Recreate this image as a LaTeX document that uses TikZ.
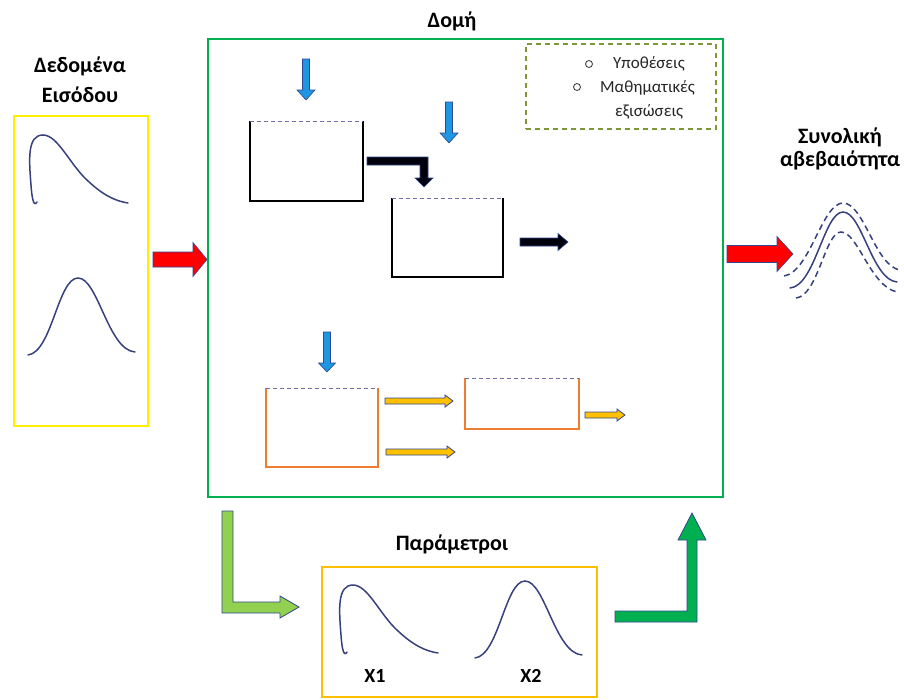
\documentclass[tikz,border=0pt]{standalone}
\usepackage{fontspec}
\setmainfont{Carlito}
\definecolor{gbox}{RGB}{0,176,80}
\definecolor{ybox}{RGB}{255,240,0}
\definecolor{obox}{RGB}{255,192,0}
\definecolor{olived}{RGB}{125,150,55}
\definecolor{procorange}{RGB}{237,125,49}
\definecolor{topline}{RGB}{110,110,170}
\definecolor{navyline}{RGB}{47,72,143}
\definecolor{arrblue}{RGB}{30,150,225}
\definecolor{arrgold}{RGB}{255,192,0}
\definecolor{lgreen}{RGB}{146,208,80}
\definecolor{curvec}{RGB}{55,65,125}
\newcommand{\blkR}[7]{\draw[#1] (#2,#4-#5) -- (#3-#7,#4-#5) -- (#3-#7,#4-#6) -- (#3,#4) -- (#3-#7,#4+#6) -- (#3-#7,#4+#5) -- (#2,#4+#5) -- cycle;}
\newcommand{\blkD}[7]{\draw[#1] (#2-#5,#3) -- (#2+#5,#3) -- (#2+#5,#4-#7) -- (#2+#6,#4-#7) -- (#2,#4) -- (#2-#6,#4-#7) -- (#2-#5,#4-#7) -- cycle;}
\newcommand{\skewpath}{(37,202) .. controls (34,207) and (32,200) .. (31,185) .. controls (29,160) and (27,135) .. (43,135) .. controls (58,135) and (70,165) .. (88,181) .. controls (103,195) and (115,201) .. (128,203)}
\newcommand{\bellpath}{(28,355) .. controls (52,352) and (58,278) .. (78,278) .. controls (98,278) and (108,350) .. (135,352)}
\tikzset{
  title/.style={font=\fontsize{22}{26}\selectfont\bfseries, anchor=base, inner sep=0},
  xlabel/.style={font=\fontsize{20}{24}\selectfont\bfseries, anchor=base, inner sep=0},
  btext/.style={font=\fontsize{17}{20}\selectfont, anchor=base west, inner sep=0, text=black!85},
  frame/.style={draw=#1, line width=2pt, inner sep=0, outer sep=0},
  slot/.style={inner sep=0, outer sep=0, minimum width=#1},
  bul/.style={circle, draw=black!80, line width=0.8pt, inner sep=0, minimum size=7pt},
  topdash/.style={draw=topline, line width=0.8pt, dash pattern=on 4pt off 3pt},
  curve/.style={draw=curvec, line width=1.5pt, line cap=round},
  dcurve/.style={draw=curvec, line width=1.5pt, dash pattern=on 6pt off 4pt},
  bluearr/.style={fill=arrblue, draw=navyline, line width=0.6pt},
  blackarr/.style={fill=black!95!blue, draw=navyline, line width=0.6pt},
  goldarr/.style={fill=arrgold, draw=navyline, line width=0.8pt},
  redarr/.style={fill=red, draw=navyline, line width=0.6pt},
}
\begin{document}
\begin{tikzpicture}[x=1pt,y=-1pt]
\useasboundingbox (0,0) rectangle (904,699);
% titles
\node[title] (tstruct) at (452,27) {Δομή};
\node[title] (tin1) at (80,72) {Δεδομένα};
\node[title] (tin2) at (80,102) {Εισόδου};
\node[title] (tout1) at (840,143) {Συνολική};
\node[title] (tout2) at (840,166) {αβεβαιότητα};
\node[title] (tpar) at (452,550) {Παράμετροι};
% frames
\node[frame=ybox, minimum width=134pt, minimum height=310pt] (inbox) at (81,271) {};
\node[frame=gbox, minimum width=515pt, minimum height=458pt] (structbox) at (465.5,268) {};
\node[draw=olived, line width=1.3pt, dash pattern=on 5pt off 4pt, inner sep=0, minimum width=190pt, minimum height=85pt] (hyp) at (621,86.5) {};
\node[frame=obox, minimum width=275pt, minimum height=130pt] (parbox) at (459.5,632) {};
% bullet list
\node[bul] (b1) at (589,64) {};
\node[bul] (b2) at (577,87) {};
\node[btext] (h1) at (613,68) {Υποθέσεις};
\node[btext] (h2) at (600,92) {Μαθηματικές};
\node[btext] (h3) at (615,116) {εξισώσεις};
% process boxes
\node[slot=113pt, minimum height=80pt] (p1) at (306.5,161) {};
\node[slot=111pt, minimum height=79pt] (p2) at (447.5,237.5) {};
\node[slot=112pt, minimum height=79pt] (p3) at (322,427.5) {};
\node[slot=114pt, minimum height=51pt] (p4) at (522,403.5) {};
\draw[line width=2pt] (p1.north west) -- (p1.south west) -- (p1.south east) -- (p1.north east);
\draw[topdash] (p1.north west) -- (p1.north east);
\draw[line width=2pt] (p2.north west) -- (p2.south west) -- (p2.south east) -- (p2.north east);
\draw[topdash] (p2.north west) -- (p2.north east);
\draw[procorange, line width=2pt] (p3.north west) -- (p3.south west) -- (p3.south east) -- (p3.north east);
\draw[topdash] (p3.north west) -- (p3.north east);
\draw[procorange, line width=2pt] (p4.north west) -- (p4.south west) -- (p4.south east) -- (p4.north east);
\draw[topdash] (p4.north west) -- (p4.north east);
% blue input arrows
\blkD{bluearr}{306}{59}{100}{3.5}{9}{10}
\blkD{bluearr}{449}{102}{143}{3.5}{9}{10}
\blkD{bluearr}{327}{332}{372}{3.5}{8.5}{9}
% black arrows
\draw[blackarr] (367,157) -- (428,157) -- (428,178) -- (433,178) -- (424,187) -- (415,178) -- (420,178) -- (420,165) -- (367,165) -- cycle;
\blkR{blackarr}{520}{568}{242}{4}{8.5}{10}
% gold arrows
\blkR{goldarr}{385}{453}{401}{3}{6}{8}
\blkR{goldarr}{386}{455}{452}{3}{6}{8}
\blkR{goldarr}{585}{625}{415}{3}{6}{8}
% red arrows
\blkR{redarr}{153}{207}{259.5}{7.5}{17}{14}
\blkR{redarr}{727}{793}{254}{8.5}{17.5}{16}
% bottom bent arrows
\draw[fill=lgreen, draw=navyline, line width=0.8pt] (222,511) -- (233,511) -- (233,602) -- (280,602) -- (280,596) -- (299,607) -- (280,618) -- (280,613) -- (222,613) -- cycle;
\draw[fill=gbox, draw=navyline, line width=0.8pt] (615,611) -- (687,611) -- (687,540) -- (678,540) -- (692,513) -- (706,540) -- (697,540) -- (697,622) -- (615,622) -- cycle;
% distributions
\draw[curve] \skewpath;
\draw[curve] \bellpath;
\begin{scope}[shift={(310,450)}]
\draw[curve] \skewpath;
\end{scope}
\begin{scope}[shift={(447,303)}]
\draw[curve] \bellpath;
\end{scope}
\node[xlabel] (x1) at (375,682) {X1};
\node[xlabel] (x2) at (531,682) {X2};
% total uncertainty
\draw[curve] (790,288) .. controls (815,286) and (824,212) .. (843,212) .. controls (862,212) and (872,280) .. (897,282);
\draw[dcurve] (784,276) .. controls (810,272) and (822,203) .. (843,203) .. controls (864,203) and (875,266) .. (900,270);
\draw[dcurve] (796,298) .. controls (818,296) and (825,232) .. (841,232) .. controls (858,232) and (870,286) .. (897,292);
\end{tikzpicture}
\end{document}
